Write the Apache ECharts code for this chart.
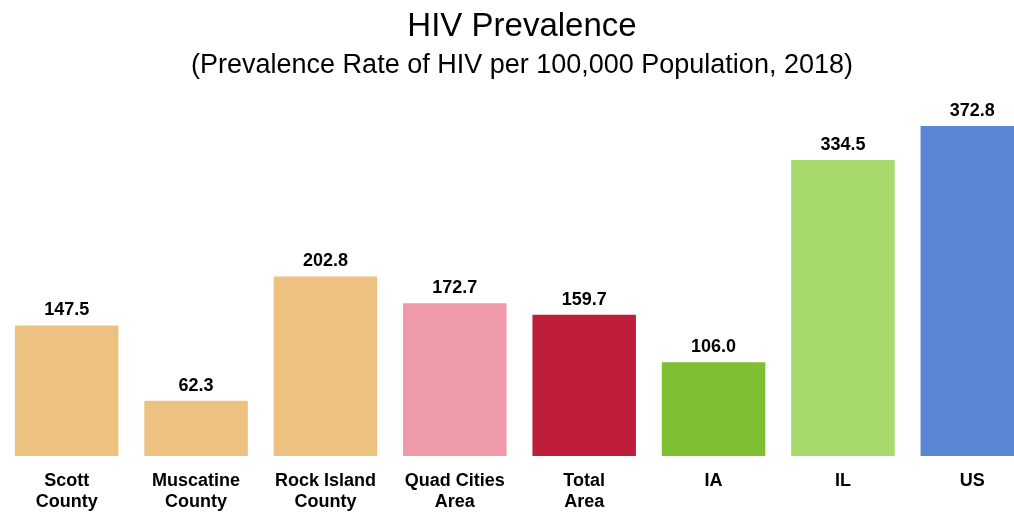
<!DOCTYPE html>
<html>
<head>
<meta charset="utf-8">
<script src="https://cdn.jsdelivr.net/npm/echarts@6/dist/echarts.min.js"></script>
<style>
  html, body { margin: 0; padding: 0; background: #ffffff; }
  #chart { width: 1014px; height: 512px; }
</style>
</head>
<body>
<div id="chart"></div>
<script>
const categories = ["Scott\nCounty", "Muscatine\nCounty", "Rock Island\nCounty", "Quad Cities\nArea", "Total\nArea", "IA", "IL", "US"];
const values = [147.5, 62.3, 202.8, 172.7, 159.7, 106.0, 334.5, 372.8];
const titleText = "HIV Prevalence";
const subtitleText = "(Prevalence Rate of HIV per 100,000 Population, 2018)";

const barColors = ["#EDC180", "#EDC180", "#EDC180", "#EF9AA8", "#BE1D3B", "#7EBE31", "#A8D96B", "#5B86D6"];
const narrow = "'Liberation Sans Narrow', 'Arial Narrow', 'Liberation Sans', Arial, sans-serif";

const chart = echarts.init(document.getElementById('chart'), null, { renderer: 'canvas' });
chart.setOption({
  animation: false,
  backgroundColor: '#ffffff',
  title: {
    text: titleText,
    subtext: subtitleText,
    left: 517,
    textAlign: 'center',
    top: 5,
    itemGap: 9,
    textStyle: { fontFamily: "'Liberation Sans', Arial, sans-serif", fontSize: 33, fontWeight: 'normal', color: '#000000' },
    subtextStyle: { fontFamily: "'Liberation Sans', Arial, sans-serif", fontSize: 27, color: '#000000' }
  },
  grid: { left: 2, right: -23, top: 102, bottom: 56, containLabel: false, outerBoundsMode: 'none' },
  xAxis: {
    type: 'category',
    data: categories,
    axisLine: { show: false },
    axisTick: { show: false },
    splitLine: { show: false },
    axisLabel: {
      interval: 0,
      margin: 15,
      fontFamily: narrow,
      fontSize: 18,
      fontWeight: 'bold',
      lineHeight: 21,
      color: '#000000'
    }
  },
  yAxis: {
    type: 'value',
    min: 0,
    max: 400,
    show: false,
    splitLine: { show: false }
  },
  series: [{
    type: 'bar',
    data: values.map((v, i) => ({ value: v, itemStyle: { color: barColors[i] } })),
    barCategoryGap: '20%',
    label: {
      show: true,
      position: 'top',
      distance: 6,
      formatter: (p) => p.value.toFixed(1),
      fontFamily: narrow,
      fontSize: 18,
      fontWeight: 'bold',
      color: '#000000'
    }
  }]
});
</script>
</body>
</html>
